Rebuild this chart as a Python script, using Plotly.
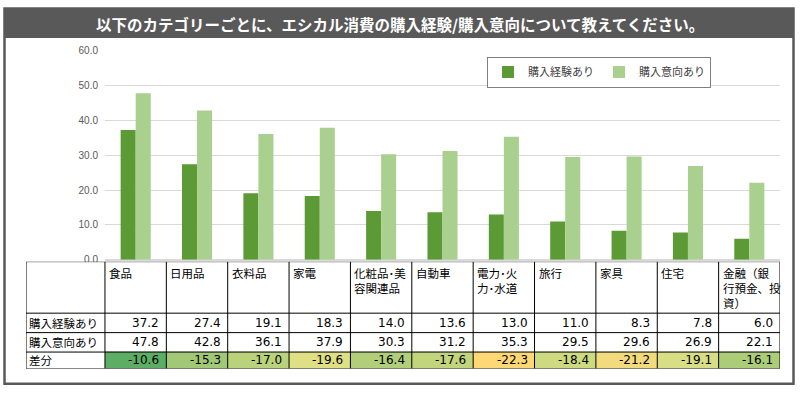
import plotly.graph_objects as go

categories = ["食品", "日用品", "衣料品", "家電", "化粧品・美容関連品", "自動車",
              "電力・火力・水道", "旅行", "家具", "住宅", "金融（銀行預金、投資）"]
header_labels = ["食品", "日用品", "衣料品", "家電", "化粧品･美<br>容関連品", "自動車",
                 "電力･火<br>力･水道", "旅行", "家具", "住宅", "金融（銀<br>行預金、投<br>資）"]
experience = [37.2, 27.4, 19.1, 18.3, 14.0, 13.6, 13.0, 11.0, 8.3, 7.8, 6.0]
intention = [47.8, 42.8, 36.1, 37.9, 30.3, 31.2, 35.3, 29.5, 29.6, 26.9, 22.1]
difference = [-10.6, -15.3, -17.0, -19.6, -16.4, -17.6, -22.3, -18.4, -21.2, -19.1, -16.1]
row_labels = ["購入経験あり", "購入意向あり", "差分"]
y_ticks = [0, 10, 20, 30, 40, 50, 60]

title_text = "以下のカテゴリーごとに、エシカル消費の購入経験/購入意向について教えてください。"

W, H = 800, 395
DARK = "#5B9A35"
LIGHT = "#A9D08E"
FRAME = "#595959"
JP = "Noto Sans CJK JP"
NUM = "DejaVu Sans, Noto Sans CJK JP"


def px(x):
    return x / W


def py(y):
    return 1 - y / H


fig = go.Figure()

# ---- bar chart ----
fig.add_trace(go.Bar(x=categories, y=experience, name="購入経験あり",
                     marker=dict(color=DARK, line=dict(width=0)), hoverinfo="y"))
fig.add_trace(go.Bar(x=categories, y=intention, name="購入意向あり",
                     marker=dict(color=LIGHT, line=dict(width=0)), hoverinfo="y"))

# ---- data table (heatmap cells + grid lines + text) ----
label_w, col_w = 79, 61.4
col_edges = [0, label_w] + [label_w + col_w * (k + 1) for k in range(len(categories))]
row_edges = [0, 53, 73, 93, 110]
total_w = col_edges[-1]

WHITE_Z = 0.0
z = [[WHITE_Z] * (len(categories) + 1) for _ in range(3)]
z.append([WHITE_Z] + difference)
zmin = min(difference)
zmax_d = max(difference)
span = WHITE_Z - zmin
mid_val = -19.5
colorscale = [[0.0, "rgb(255,216,118)"],
              [(mid_val - zmin) / span, "rgb(222,224,132)"],
              [(zmax_d - zmin) / span, "rgb(92,174,100)"],
              [(zmax_d - zmin) / span + 1e-4, "white"],
              [1.0, "white"]]

fig.add_trace(go.Heatmap(x=col_edges, y=row_edges, z=z, zmin=zmin, zmax=WHITE_Z,
                         colorscale=colorscale, showscale=False, hoverinfo="skip",
                         xaxis="x2", yaxis="y2"))

gx, gy = [], []
for e in col_edges:
    gx += [e, e, None]
    gy += [row_edges[0], row_edges[-1], None]
for r in row_edges:
    gx += [0, total_w, None]
    gy += [r, r, None]
fig.add_trace(go.Scatter(x=gx, y=gy, mode="lines", line=dict(color="black", width=1),
                         hoverinfo="skip", showlegend=False, xaxis="x2", yaxis="y2"))

annotations = [dict(text="<b>" + title_text + "</b>", xref="paper", yref="paper",
                    x=0.5, y=py(19.5), xanchor="center", yanchor="middle",
                    showarrow=False, font=dict(family=JP, size=15.5, color="white"))]

for k, lab in enumerate(header_labels):
    annotations.append(dict(text=lab, xref="x2", yref="y2", x=col_edges[k + 1], y=row_edges[0],
                            xanchor="left", yanchor="top", align="left", showarrow=False,
                            xshift=2, yshift=-1,
                            font=dict(family=JP, size=11.5, color="black")))

for r, lab in enumerate(row_labels):
    yc = (row_edges[r + 1] + row_edges[r + 2]) / 2
    annotations.append(dict(text=lab, xref="x2", yref="y2", x=col_edges[0], y=yc,
                            xanchor="left", yanchor="middle", showarrow=False, xshift=1,
                            font=dict(family=JP, size=11.5, color="black")))

for r, series in enumerate([experience, intention, difference]):
    yc = (row_edges[r + 1] + row_edges[r + 2]) / 2
    for k, v in enumerate(series):
        annotations.append(dict(text=f"{v:.1f}", xref="x2", yref="y2", x=col_edges[k + 2], y=yc,
                                xanchor="right", yanchor="middle", showarrow=False, xshift=-5,
                                font=dict(family=NUM, size=12, color="black")))

shapes = [
    dict(type="rect", xref="paper", yref="paper",
         x0=px(4), x1=px(794), y0=py(34), y1=py(3),
         line=dict(width=0), fillcolor=FRAME, layer="below"),
    dict(type="rect", xref="paper", yref="paper",
         x0=px(4.5), x1=px(793.5), y0=py(389.5), y1=py(3.5),
         line=dict(color=FRAME, width=2.5), fillcolor="rgba(0,0,0,0)", layer="above"),
]

fig.update_layout(
    width=W, height=H,
    margin=dict(l=0, r=0, t=0, b=0),
    paper_bgcolor="white", plot_bgcolor="white",
    barmode="group", bargap=0.51, bargroupgap=0,
    shapes=shapes,
    annotations=annotations,
    xaxis=dict(domain=[px(105), px(780)], range=[-0.5, len(categories) - 0.5],
               showticklabels=False, showgrid=False, zeroline=False, ticks=""),
    yaxis=dict(domain=[py(262), py(47)], range=[0, 60], tickvals=y_ticks,
               tickformat=".1f", showgrid=True, gridcolor="#D9D9D9", gridwidth=1,
               zeroline=True, zerolinecolor="#D9D9D9",
               tickfont=dict(family="Liberation Sans", size=10, color="#595959"),
               ticklabelstandoff=6),
    xaxis2=dict(domain=[px(26), px(780)], range=[0, total_w], anchor="y2",
                visible=False, fixedrange=True),
    yaxis2=dict(domain=[py(374), py(264)], range=[row_edges[-1], 0], anchor="x2",
                visible=False, fixedrange=True),
    legend=dict(orientation="h", x=px(487), y=py(53), xanchor="left", yanchor="top",
                bordercolor="#7F7F7F", borderwidth=1, bgcolor="white",
                font=dict(family=JP, size=11, color="#404040"),
                itemwidth=30, traceorder="normal"),
    showlegend=True,
)

fig.write_html("out.html", config={"displayModeBar": False},
               post_script="document.body.style.margin='0';")
